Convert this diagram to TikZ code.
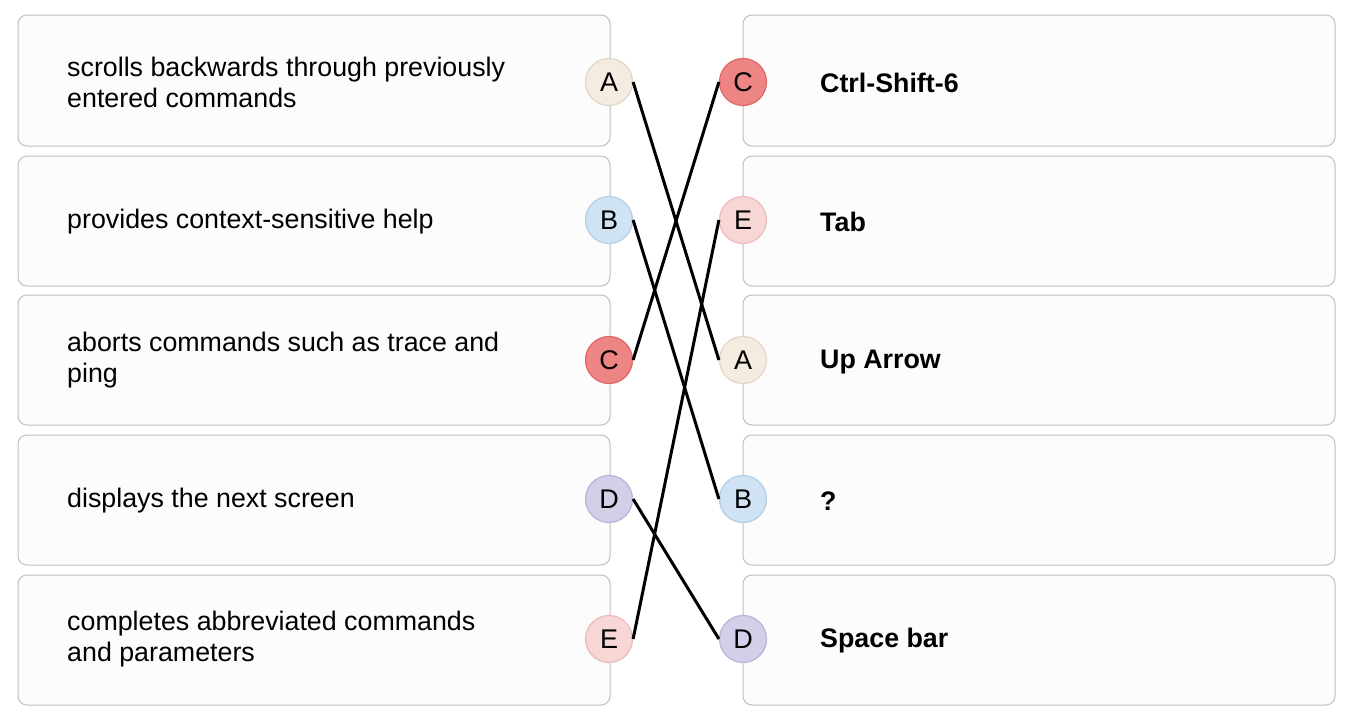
\documentclass[tikz,border=0pt]{standalone}
\usepackage{fontspec}
\setmainfont{Liberation Sans}
\begin{document}
\begin{tikzpicture}[x=1pt,y=-1pt,
  card/.style={draw=black!25, fill=black!1, rounded corners=9pt, line width=1pt},
  ltext/.style={anchor=west, align=left, inner sep=0pt, font=\fontsize{26.8}{31}\selectfont},
  rtext/.style={anchor=west, align=left, inner sep=0pt, font=\fontsize{26.8}{31}\selectfont\bfseries},
  badge/.style={circle, minimum size=47pt, inner sep=0pt, line width=1.2pt, font=\fontsize{27}{27}\selectfont},
  bA/.style={badge, fill=bAf, draw=bAd},
  bB/.style={badge, fill=bBf, draw=bBd},
  bC/.style={badge, fill=bCf, draw=bCd},
  bD/.style={badge, fill=bDf, draw=bDd},
  bE/.style={badge, fill=bEf, draw=bEd},
  link/.style={line width=3pt, black}
]
\definecolor{bAf}{HTML}{F4EBE1}\definecolor{bAd}{HTML}{E2D5C6}
\definecolor{bBf}{HTML}{CFE3F4}\definecolor{bBd}{HTML}{B3CDE5}
\definecolor{bCf}{HTML}{EE8585}\definecolor{bCd}{HTML}{E06666}
\definecolor{bDf}{HTML}{D2D0E8}\definecolor{bDd}{HTML}{B8B4D8}
\definecolor{bEf}{HTML}{F7D6D6}\definecolor{bEd}{HTML}{EBBABA}
\useasboundingbox[fill=white] (0,0) rectangle (1352,720);
% left cards
\draw[card] (18,15) rectangle (610,146);
\draw[card] (18,156) rectangle (610,286);
\draw[card] (18,295) rectangle (610,425);
\draw[card] (18,435) rectangle (610,565);
\draw[card] (18,575) rectangle (610,705);
% right cards
\draw[card] (743,15) rectangle (1335,146);
\draw[card] (743,156) rectangle (1335,286);
\draw[card] (743,295) rectangle (1335,425);
\draw[card] (743,435) rectangle (1335,565);
\draw[card] (743,575) rectangle (1335,705);
% left texts
\node[ltext] (t1) at (67,82) {scrolls backwards through previously\\entered commands};
\node[ltext] (t2) at (67,222) {provides context-sensitive help};
\node[ltext] (t3) at (67,360) {aborts commands such as trace and\\ping};
\node[ltext] (t4) at (67,501) {displays the next screen};
\node[ltext] (t5) at (67,639) {completes abbreviated commands\\and parameters};
% right texts
\node[rtext] (r1) at (820,83) {Ctrl-Shift-6};
\node[rtext] (r2) at (820,222) {Tab};
\node[rtext] (r3) at (820,362) {Up Arrow};
\node[rtext] (r4) at (820,501) {?};
\node[rtext] (r5) at (820,641) {Space bar};
% left badges
\node[bA] (LA) at (609,82) {A};
\node[bB] (LB) at (609,220) {B};
\node[bC] (LC) at (609,360) {C};
\node[bD] (LD) at (609,499) {D};
\node[bE] (LE) at (609,639) {E};
% right badges
\node[bC] (RC) at (743,82) {C};
\node[bE] (RE) at (743,220) {E};
\node[bA] (RA) at (743,360) {A};
\node[bB] (RB) at (743,499) {B};
\node[bD] (RD) at (743,639) {D};
% links
\draw[link] (LA.east) -- (RA.west);
\draw[link] (LB.east) -- (RB.west);
\draw[link] (LC.east) -- (RC.west);
\draw[link] (LD.east) -- (RD.west);
\draw[link] (LE.east) -- (RE.west);
\end{tikzpicture}
\end{document}
